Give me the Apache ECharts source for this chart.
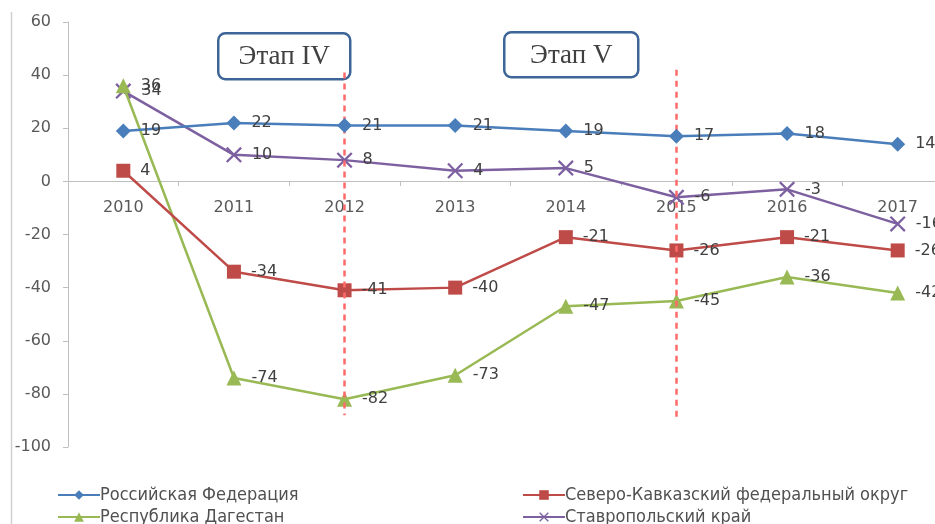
<!DOCTYPE html>
<html><head><meta charset="utf-8">
<script src="https://cdn.jsdelivr.net/npm/echarts@6/dist/echarts.min.js"></script>
<style>html,body{margin:0;padding:0;background:#fff}#c{width:935px;height:524px}</style>
</head><body><div id="c"></div>
<script>
const years = ['2010','2011','2012','2013','2014','2015','2016','2017'];
const rf    = [19, 22, 21, 21, 19, 17, 18, 14];
const skfo  = [4, -34, -41, -40, -21, -26, -21, -26];
const dag   = [36, -74, -82, -73, -47, -45, -36, -42];
const stav  = [34, 10, 8, 4, 5, -6, -3, -16];
const seriesNames = ['Российская Федерация','Северо-Кавказский федеральный округ','Республика Дагестан','Ставропольский край'];
const stageLabels = ['Этап IV','Этап V'];
const stageLines = [{year:'2012', top:41, bottom:-88},{year:'2015', top:42, bottom:-89}];
const yMin = -100, yMax = 60, yStep = 20;

const colors = ['#4A7EBB','#BE4B48','#98B954','#7D60A0'];
const symbols = ['diamond','rect','triangle','path://M0,1L1,0L5,4L9,0L10,1L6,5L10,9L9,10L5,6L1,10L0,9L4,5Z'];
const sizes = [15, 14, 15, 16];
const dataArr = [rf, skfo, dag, stav];

const W = 935, H = 524;
const gridLeft = 68, gridTop = 22, gridBottom = 77, gridWidth = 885;

const chart = echarts.init(document.getElementById('c'), null, {renderer:'canvas'});
const labelFont = {fontFamily:'DejaVu Sans', fontSize:16, color:'#404040'};

const series = dataArr.map((d,i)=>({
  name: seriesNames[i], type:'line', data:d,
  symbol: symbols[i], symbolSize: sizes[i],
  lineStyle:{color:colors[i], width:2.5},
  itemStyle:{color:colors[i]},
  label:{show:true, position:'right', distance:10, ...labelFont},
  z: i===0?5:(4-i),
  animation:false
}));
series[1].markLine = {
  silent:true, symbol:['none','none'], label:{show:false},
  lineStyle:{color:'#FF6B6B', type:[6,5], width:2.5},
  data: stageLines.map(s=>[{coord:[s.year, s.top]},{coord:[s.year, s.bottom]}])
};

const legendPos = [[57,486],[522,486],[57,508],[522,508]];
const legends = seriesNames.map((n,i)=>({
  data:[n], left:legendPos[i][0], top:legendPos[i][1], padding:0,
  itemWidth:42, itemHeight:12, itemGap:0,
  textStyle:{fontFamily:'DejaVu Sans Condensed', fontSize:18, color:'#505050', padding:[0,0,0,-5]}
}));

function stageBox(x,y,w,h,txt){
  return {type:'group', left:x, top:y, children:[
    {type:'rect', shape:{x:0,y:0,width:w,height:h,r:7}, style:{fill:'#fff', stroke:'#3E6597', lineWidth:2.5}},
    {type:'text', style:{text:txt, x:w/2, y:h/2+1, align:'center', verticalAlign:'middle', fontFamily:'Liberation Serif', fontSize:27, fill:'#404040'}}
  ]};
}

chart.setOption({
  animation:false,
  backgroundColor:'#fff',
  grid:{left:gridLeft, top:gridTop, width:gridWidth, height:H-gridTop-gridBottom, containLabel:false, outerBoundsMode:'none'},
  legend: legends,
  xAxis:{type:'category', data:years, boundaryGap:true, position:'bottom',
    offset: -Math.round((H-gridTop-gridBottom) * (0 - yMin) / (yMax - yMin)),
    axisLine:{onZero:false, lineStyle:{color:'#BFBFBF', width:1}},
    axisTick:{show:true, length:5, lineStyle:{color:'#BFBFBF'}},
    axisLabel:{margin:19, fontFamily:'DejaVu Sans', fontSize:16, color:'#595959'},
    splitLine:{show:false}},
  yAxis:{type:'value', min:yMin, max:yMax, interval:yStep,
    axisLine:{show:true, lineStyle:{color:'#BFBFBF', width:1}},
    axisTick:{show:true, length:5, lineStyle:{color:'#BFBFBF'}},
    axisLabel:{margin:17, fontFamily:'DejaVu Sans', fontSize:16, color:'#595959'},
    splitLine:{show:false}},
  series: series,
  graphic:[
    {type:'line', shape:{x1:11.5,y1:12,x2:11.5,y2:524}, style:{stroke:'#D0D0D0', lineWidth:1.5}},
    stageBox(217,32,132,46,stageLabels[0]),
    stageBox(503,31,134,45,stageLabels[1])
  ]
});
</script></body></html>
